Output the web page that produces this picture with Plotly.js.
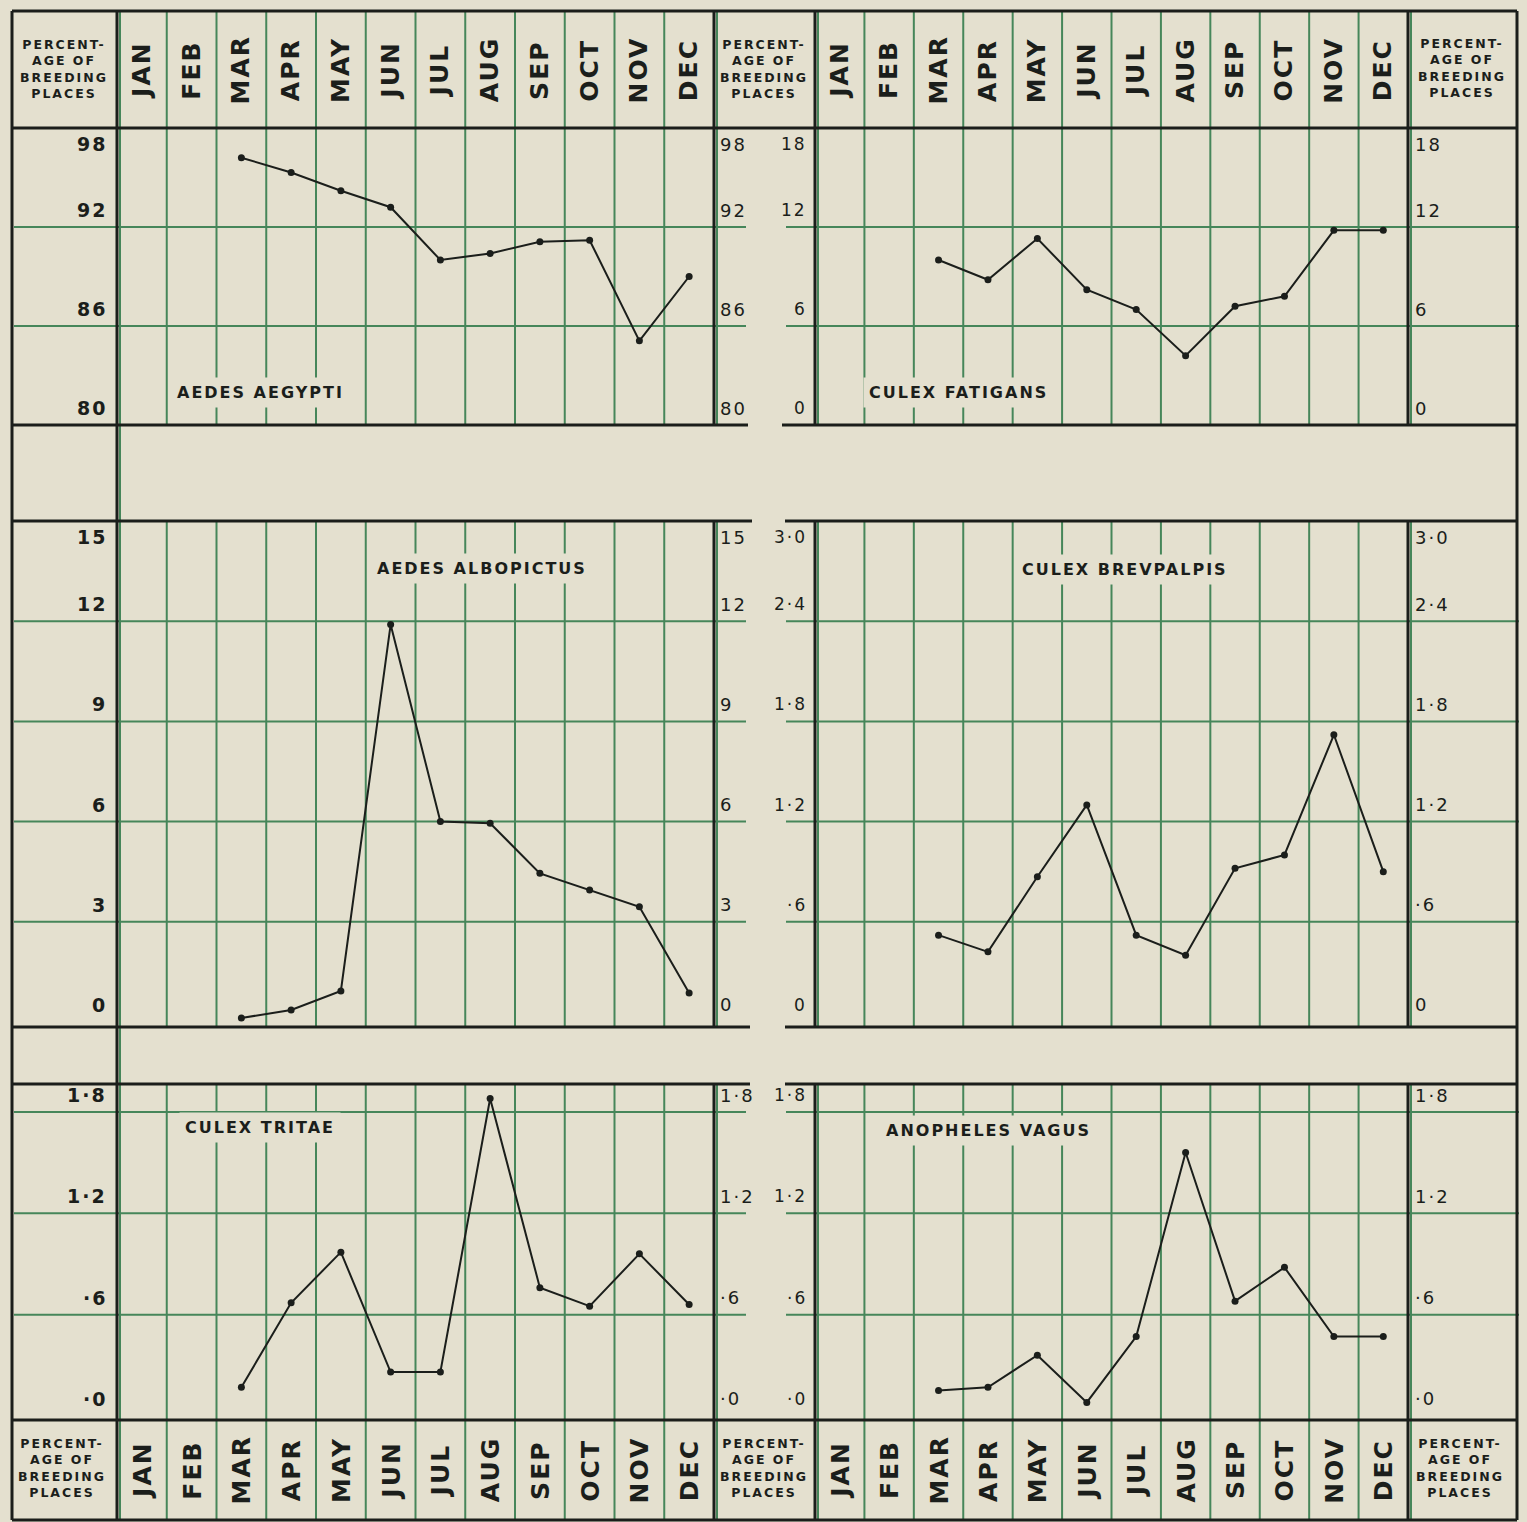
<!DOCTYPE html>
<html><head><meta charset="utf-8">
<script src="https://cdn.plot.ly/plotly-3.0.1.min.js"></script>
<style>
html,body{margin:0;padding:0;background:#e4e0cf;}
#chart{width:1527px;height:1522px;}
.annotation-text{letter-spacing:2px;}
</style></head><body><div id="chart"></div>
<script>
// ---- data ----
const months = ['JAN','FEB','MAR','APR','MAY','JUN','JUL','AUG','SEP','OCT','NOV','DEC'];
const observedMonths = ['MAR','APR','MAY','JUN','JUL','AUG','SEP','OCT','NOV','DEC'];

const aedesAegypti    = [96.2, 95.3, 94.2, 93.2, 90.0, 90.4, 91.1, 91.2, 85.1, 89.0];
const culexFatigans   = [10.0, 8.8, 11.3, 8.2, 7.0, 4.2, 7.2, 7.8, 11.8, 11.8];
const aedesAlbopictus = [0.12, 0.36, 0.93, 11.9, 6.0, 5.95, 4.45, 3.95, 3.45, 0.87];
const culexBrevpalpis = [0.52, 0.42, 0.87, 1.3, 0.52, 0.4, 0.92, 1.0, 1.72, 0.9];
const culexTritae     = [0.17, 0.67, 0.97, 0.26, 0.26, 1.88, 0.76, 0.65, 0.96, 0.66];
const anophelesVagus  = [0.15, 0.17, 0.36, 0.08, 0.47, 1.56, 0.68, 0.88, 0.47, 0.47];

const ticksAegypti = [80, 86, 92, 98];
const ticksAegyptiText = ['80', '86', '92', '98'];
const ticksFatigans = [0, 6, 12, 18];
const ticksFatigansText = ['0', '6', '12', '18'];
const ticksAlbopictus = [0, 3, 6, 9, 12, 15];
const ticksAlbopictusText = ['0', '3', '6', '9', '12', '15'];
const ticksBrevpalpis = [0, 0.6, 1.2, 1.8, 2.4, 3.0];
const ticksBrevpalpisText = ['0', '·6', '1·2', '1·8', '2·4', '3·0'];
const ticksSmall = [0, 0.6, 1.2, 1.8];
const ticksSmallText = ['·0', '·6', '1·2', '1·8'];

const headerText = 'PERCENT-<br>AGE OF<br>BREEDING<br>PLACES';

// ---- geometry / style ----
const W = 1527, H = 1522;
const fx = p => p / W, fy = p => 1 - p / H;
const BG = '#e4e0cf', GREEN = '#46865a', INK = '#1b1e1b';
const FONT = 'DejaVu Sans';
const colL = [117, 714], colR = [815, 1408];

const panels = [
  {name:'AEDES AEGYPTI',   y:aedesAegypti,    cols:colL, rows:[128,425],  ext:[11,425],   range:[80,98],        ticks:ticksAegypti,    text:ticksAegyptiText,    side:'L', title:[260,392]},
  {name:'CULEX FATIGANS',  y:culexFatigans,   cols:colR, rows:[128,425],  ext:[11,425],   range:[0,18],         ticks:ticksFatigans,   text:ticksFatigansText,   side:'R', title:[958,392]},
  {name:'AEDES ALBOPICTUS',y:aedesAlbopictus, cols:colL, rows:[521,1027], ext:[521,1027], range:[-0.15,15],     ticks:ticksAlbopictus, text:ticksAlbopictusText, side:'L', title:[482,568]},
  {name:'CULEX BREVPALPIS',y:culexBrevpalpis, cols:colR, rows:[521,1027], ext:[521,1027], range:[-0.03,3.0],    ticks:ticksBrevpalpis, text:ticksBrevpalpisText, side:'R', title:[1125,570]},
  {name:'CULEX TRITAE',    y:culexTritae,     cols:colL, rows:[1084,1420],ext:[1084,1520],range:[-0.024,1.966], ticks:ticksSmall,      text:ticksSmallText,      side:'L', title:[260,1127]},
  {name:'ANOPHELES VAGUS', y:anophelesVagus,  cols:colR, rows:[1084,1420],ext:[1084,1520],range:[-0.024,1.966], ticks:ticksSmall,      text:ticksSmallText,      side:'R', title:[988,1130]}
];

const layout = {
  width: W, height: H,
  margin: {l:0, r:0, t:0, b:0, pad:0},
  paper_bgcolor: BG, plot_bgcolor: 'rgba(0,0,0,0)',
  showlegend: false,
  shapes: [], annotations: []
};
const traces = [];

function hline(y, x0, x1, color, width) {
  layout.shapes.push({type:'line', layer:'below', xref:'paper', yref:'paper',
    x0:fx(x0), x1:fx(x1), y0:fy(y), y1:fy(y), line:{color, width}});
}
function vline(x, y0, y1, color, width) {
  layout.shapes.push({type:'line', layer:'below', xref:'paper', yref:'paper',
    x0:fx(x), x1:fx(x), y0:fy(y0), y1:fy(y1), line:{color, width}});
}

panels.forEach((p, i) => {
  const suf = i === 0 ? '' : String(i + 1);
  const xa = 'x' + suf, ya = 'y' + suf;
  layout['xaxis' + suf] = {domain:[fx(p.cols[0]), fx(p.cols[1])], type:'category',
    categoryorder:'array', categoryarray:months, range:[-0.5, 11.5],
    showgrid:false, zeroline:false, showticklabels:false, showline:false, ticks:'',
    anchor:ya, fixedrange:true};
  layout['yaxis' + suf] = {domain:[fy(p.rows[1]), fy(p.rows[0])], range:p.range,
    showgrid:false, zeroline:false, showticklabels:false, showline:false, ticks:'',
    anchor:xa, fixedrange:true};

  // month column boundaries (green)
  for (let k = 1; k < 12; k++) {
    layout.shapes.push({type:'line', layer:'below', xref:xa, yref:'paper',
      x0:k - 0.5, x1:k - 0.5, y0:fy(p.ext[1]), y1:fy(p.ext[0]),
      line:{color:GREEN, width:2}});
  }
  // horizontal value lines (green) across the label columns
  const span = p.range[1] - p.range[0];
  p.ticks.forEach(v => {
    if (v > p.range[0] + 0.02 * span && v < p.range[1] - 0.02 * span) {
      const xs = p.side === 'L' ? [14, 746] : [786, 1519];
      layout.shapes.push({type:'line', layer:'below', xref:'paper', yref:ya,
        x0:fx(xs[0]), x1:fx(xs[1]), y0:v, y1:v, line:{color:GREEN, width:2}});
    }
  });

  // value labels
  p.ticks.forEach((v, k) => {
    const shift = (v === p.range[1]) ? -16 : 17;
    if (p.side === 'L') {
      layout.annotations.push({xref:'paper', yref:ya, x:fx(109), y:v, xanchor:'right', yanchor:'middle',
        yshift:shift, showarrow:false, text:'<b>' + p.text[k] + '</b>', font:{family:FONT, size:19, color:INK}});
      layout.annotations.push({xref:'paper', yref:ya, x:fx(718), y:v, xanchor:'left', yanchor:'middle',
        yshift:shift, showarrow:false, text:p.text[k], font:{family:FONT, size:18, color:INK}});
    } else {
      layout.annotations.push({xref:'paper', yref:ya, x:fx(809), y:v, xanchor:'right', yanchor:'middle',
        yshift:shift, showarrow:false, text:p.text[k], font:{family:FONT, size:17, color:INK}});
      layout.annotations.push({xref:'paper', yref:ya, x:fx(1413), y:v, xanchor:'left', yanchor:'middle',
        yshift:shift, showarrow:false, text:p.text[k], font:{family:FONT, size:18, color:INK}});
    }
  });

  // species name
  layout.annotations.push({xref:'paper', yref:'paper', x:fx(p.title[0]), y:fy(p.title[1]),
    xanchor:'center', yanchor:'middle', showarrow:false, bgcolor:BG, borderpad:5,
    text:'<b>' + p.name + '</b>', font:{family:FONT, size:16, color:INK}});

  traces.push({type:'scatter', mode:'lines+markers', xaxis:xa, yaxis:ya,
    x:observedMonths, y:p.y, line:{color:INK, width:2}, marker:{color:INK, size:7},
    hoverinfo:'skip', cliponaxis:false});
});

// month headers (top via panels 1 & 2, bottom via panels 5 & 6)
[['x', 70], ['x2', 70], ['x5', 1470], ['x6', 1470]].forEach(([xa, yy]) => {
  months.forEach(m => {
    layout.annotations.push({xref:xa, yref:'paper', x:m, y:fy(yy), textangle:-90,
      xanchor:'center', yanchor:'middle', showarrow:false,
      text:'<b>' + m + '</b>', font:{family:FONT, size:25, color:INK}});
  });
});

// column header texts
[[64, 69], [764, 69], [1462, 68], [62, 1468], [764, 1468], [1460, 1468]].forEach(([x, y]) => {
  layout.annotations.push({xref:'paper', yref:'paper', x:fx(x), y:fy(y), xanchor:'center', yanchor:'middle',
    showarrow:false, text:'<b>' + headerText + '</b>', font:{family:FONT, size:12.5, color:INK}});
});

// green companions beside the heavy column rules
[[120], [717], [818], [1411]].forEach(([x]) => {
  [[11, 425], [521, 1027], [1084, 1520]].forEach(([a, b]) => vline(x, a, b, GREEN, 2));
});
vline(120, 425, 521, GREEN, 2);
vline(120, 1027, 1084, GREEN, 2);

// heavy frame rules
hline(11, 12, 1517, INK, 3);
hline(128, 12, 1517, INK, 3);
hline(425, 12, 748, INK, 3); hline(425, 782, 1517, INK, 3);
hline(521, 12, 752, INK, 3); hline(521, 785, 1517, INK, 3);
hline(1027, 12, 750, INK, 3); hline(1027, 785, 1517, INK, 3);
hline(1084, 12, 750, INK, 3); hline(1084, 785, 1517, INK, 3);
hline(1420, 12, 1517, INK, 3);
hline(1520, 12, 1517, INK, 3);
vline(12, 11, 1520, INK, 3);
vline(117, 11, 1520, INK, 3);
vline(1517, 11, 1520, INK, 3);
[714, 815, 1408].forEach(x => {
  [[11, 425], [521, 1027], [1084, 1520]].forEach(([a, b]) => vline(x, a, b, INK, 3));
});

Plotly.newPlot('chart', traces, layout, {staticPlot:true, displayModeBar:false});
</script>
</body></html>
